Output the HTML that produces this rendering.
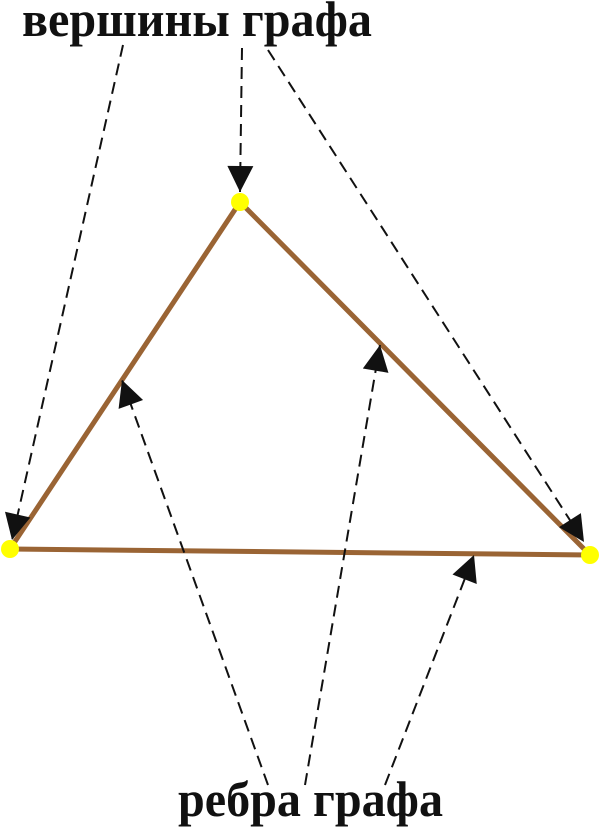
<!DOCTYPE html>
<html><head><meta charset="utf-8"><style>html,body{margin:0;padding:0;background:#fff}svg{display:block}</style></head>
<body>
<svg width="604" height="828" viewBox="0 0 604 828" xmlns="http://www.w3.org/2000/svg">
<defs>
<marker id="a" viewBox="0 0 10 10" refX="10" refY="5" markerWidth="28" markerHeight="26" markerUnits="userSpaceOnUse" orient="auto">
<path d="M0,0 L10,5 L0,10 Z" fill="#111"/>
</marker>
</defs>
<g stroke="#9a6434" stroke-width="5" stroke-linecap="round" fill="none">
<line x1="10" y1="549" x2="240" y2="202"/>
<line x1="240" y1="202" x2="590" y2="555"/>
<line x1="10" y1="549" x2="590" y2="555"/>
</g>
<g stroke="#111" stroke-width="2" stroke-dasharray="12,7" fill="none" marker-end="url(#a)">
<line x1="123" y1="45" x2="12" y2="540"/>
<line x1="242" y1="48" x2="240" y2="192"/>
<line x1="268" y1="50" x2="584" y2="542"/>
<line x1="268" y1="785" x2="122" y2="380"/>
<line x1="305" y1="785" x2="380" y2="345"/>
<line x1="385" y1="785" x2="474" y2="555"/>
</g>
<g fill="#ffff00">
<circle cx="240" cy="202" r="9"/>
<circle cx="10" cy="549" r="9"/>
<circle cx="590" cy="555" r="9"/>
</g>
<text x="22" y="36" font-family="Liberation Serif, serif" font-weight="bold" font-size="50" textLength="350" lengthAdjust="spacingAndGlyphs" fill="#111">вершины графа</text>
<text x="178" y="816" font-family="Liberation Serif, serif" font-weight="bold" font-size="50" textLength="265" lengthAdjust="spacingAndGlyphs" fill="#111">ребра графа</text>
</svg>
</body></html>
